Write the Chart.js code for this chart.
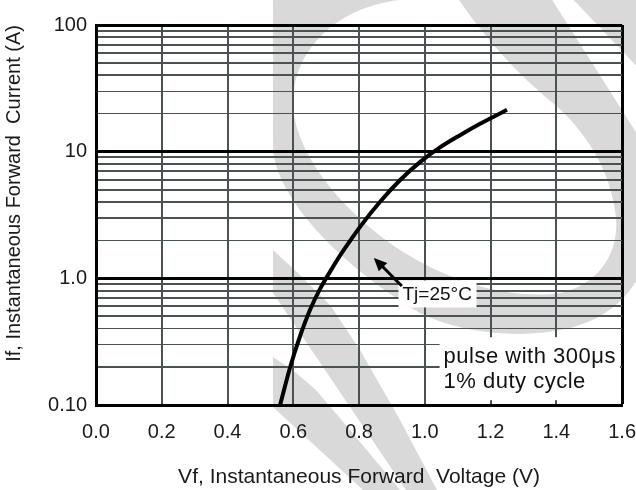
<!DOCTYPE html>
<html>
<head>
<meta charset="utf-8">
<title>Forward characteristics</title>
<script src="https://cdn.jsdelivr.net/npm/chart.js@4.4.1/dist/chart.umd.min.js"></script>
<style>
  body { margin: 0; background: #fff; }
  canvas { display: block; }
</style>
</head>
<body>
<canvas id="vfChart" width="636" height="490"></canvas>
<script>
// curve (Tj = 25C)
var vf = [0.56, 0.59, 0.621, 0.651, 0.681, 0.712, 0.742, 0.773, 0.803, 0.864, 0.925, 0.986, 1.046, 1.107, 1.168, 1.25];
var ifwd = [0.10, 0.197, 0.352, 0.565, 0.822, 1.13, 1.51, 1.98, 2.55, 4.02, 5.97, 8.3, 10.8, 13.5, 16.6, 21.4];

var xTicks = [0, 0.2, 0.4, 0.6, 0.8, 1.0, 1.2, 1.4, 1.6];
var xTickLabels = ['0.0', '0.2', '0.4', '0.6', '0.8', '1.0', '1.2', '1.4', '1.6'];
var yDecades = [0.1, 1, 10, 100];
var yDecadeLabels = ['0.10', '1.0', '10', '100'];
var thinLines = [0.3, 0.4, 2, 20, 30];

var tjText = 'Tj=25\u00B0C';
var pulseText = ['pulse with 300\u03BCs', '1% duty cycle'];

var FONT = '"Liberation Sans", Arial, sans-serif';
var GRID = '#4b5254';

function same(a, b) { return Math.abs(a - b) < 1e-9 * Math.max(1, b); }
function isDecade(v) { return yDecades.some(function (d) { return same(v, d); }); }
function isThin(v) { return thinLines.some(function (d) { return same(v, d); }); }

// gray logo watermark behind the grid
var backdrop = {
  id: 'backdrop',
  beforeDraw: function (chart) {
    var ctx = chart.ctx;
    ctx.save();
    ctx.fillStyle = '#fff';
    ctx.fillRect(0, 0, chart.width, chart.height);
    ctx.fillStyle = '#d9d9d9';

    ctx.beginPath();
    ctx.moveTo(273, -5);
    ctx.lineTo(273, 150);
    ctx.bezierCurveTo(278, 200, 340, 265, 420, 313);
    ctx.bezierCurveTo(460, 333, 520, 340, 570, 328);
    ctx.bezierCurveTo(640, 310, 660, 250, 660, 170);
    ctx.lineTo(549, -5);
    ctx.closePath();
    ctx.moveTo(399, -5);
    ctx.lineTo(399, 0);
    ctx.bezierCurveTo(335, 8, 295, 50, 293, 100);
    ctx.bezierCurveTo(292, 150, 340, 210, 400, 250);
    ctx.bezierCurveTo(450, 282, 510, 300, 560, 293);
    ctx.bezierCurveTo(600, 285, 622, 250, 615, 210);
    ctx.bezierCurveTo(608, 160, 575, 120, 549, 100);
    ctx.bezierCurveTo(520, 75, 490, 45, 459, 0);
    ctx.lineTo(459, -5);
    ctx.closePath();
    ctx.fill('evenodd');

    var polys = [
      [[569, -5], [645, -5], [645, 75]],
      [[273, 250], [300, 275], [330, 305], [360, 350], [400, 420], [437, 490], [406, 490], [350, 407], [273, 293]],
      [[273, 357], [295, 372], [316, 390], [350, 430], [400, 490], [363, 490], [273, 407]]
    ];
    polys.forEach(function (p) {
      ctx.beginPath();
      ctx.moveTo(p[0][0], p[0][1]);
      for (var i = 1; i < p.length; i++) ctx.lineTo(p[i][0], p[i][1]);
      ctx.closePath();
      ctx.fill();
    });
    ctx.restore();
  }
};

// annotations: arrow, Tj label and the pulse note
var notes = {
  id: 'notes',
  afterDraw: function (chart) {
    var ctx = chart.ctx, xs = chart.scales.x, ys = chart.scales.y;
    ctx.save();

    // Tj label
    var tx = xs.getPixelForValue(0.92), ty = ys.getPixelForValue(0.98);
    ctx.fillStyle = '#fff';
    ctx.fillRect(tx, ty + 1, 78, 27);
    ctx.fillStyle = '#111';
    ctx.font = '19px ' + FONT;
    ctx.textBaseline = 'alphabetic';
    ctx.fillText(tjText, tx + 4, ty + 21);

    // arrow pointing at the curve
    var ax = xs.getPixelForValue(0.93), ay = ys.getPixelForValue(0.87);
    var bx = xs.getPixelForValue(0.845), by = ys.getPixelForValue(1.45);
    var ang = Math.atan2(by - ay, bx - ax);
    ctx.strokeStyle = '#000';
    ctx.lineWidth = 3;
    ctx.beginPath();
    ctx.moveTo(ax, ay);
    ctx.lineTo(bx - 8 * Math.cos(ang), by - 8 * Math.sin(ang));
    ctx.stroke();
    ctx.fillStyle = '#000';
    ctx.beginPath();
    ctx.moveTo(bx, by);
    ctx.lineTo(bx - 13 * Math.cos(ang) + 6 * Math.sin(ang), by - 13 * Math.sin(ang) - 6 * Math.cos(ang));
    ctx.lineTo(bx - 13 * Math.cos(ang) - 6 * Math.sin(ang), by - 13 * Math.sin(ang) + 6 * Math.cos(ang));
    ctx.closePath();
    ctx.fill();

    // pulse note
    var px = xs.getPixelForValue(1.045), py = ys.getPixelForValue(0.343);
    ctx.fillStyle = '#fff';
    ctx.fillRect(px, py, chart.chartArea.right - 2 - px, 63);
    ctx.fillStyle = '#111';
    ctx.font = '22px ' + FONT;
    ctx.letterSpacing = '0.5px';
    ctx.fillText(pulseText[0], px + 4, py + 26);
    ctx.fillText(pulseText[1], px + 4, py + 51);

    ctx.restore();
  }
};

var points = vf.map(function (v, i) { return { x: v, y: ifwd[i] }; });

new Chart(document.getElementById('vfChart'), {
  type: 'line',
  data: {
    datasets: [{
      data: points,
      borderColor: '#000',
      borderWidth: 4,
      pointRadius: 0,
      cubicInterpolationMode: 'monotone',
      fill: false
    }]
  },
  options: {
    responsive: false,
    animation: false,
    layout: { padding: { top: 25, right: 0, left: 0, bottom: 0 } },
    plugins: {
      legend: { display: false },
      tooltip: { enabled: false }
    },
    scales: {
      x: {
        type: 'linear',
        min: 0,
        max: 1.6,
        afterBuildTicks: function (scale) {
          scale.ticks = xTicks.map(function (v) { return { value: v }; });
        },
        afterFit: function (scale) { scale.height = 85; },
        ticks: {
          autoSkip: false,
          maxRotation: 0,
          padding: 0,
          color: '#1a1a1a',
          font: { family: FONT, size: 20 },
          callback: function (value, index) { return xTickLabels[index]; }
        },
        grid: {
          drawTicks: true,
          tickLength: 15,
          tickColor: 'rgba(0,0,0,0)',
          color: function (c) { return c.tick && same(c.tick.value, 1.6) ? '#000' : GRID; },
          lineWidth: function (c) { return c.tick && same(c.tick.value, 1.6) ? 3 : 2; }
        },
        border: { color: '#000', width: 3 },
        title: {
          display: true,
          text: 'Vf, Instantaneous Forward  Voltage (V)',
          color: '#1a1a1a',
          font: { family: FONT, size: 21 },
          padding: { top: 0, bottom: 0 }
        }
      },
      y: {
        type: 'logarithmic',
        min: 0.1,
        max: 100,
        afterBuildTicks: function (scale) {
          var list = [];
          [0.1, 1, 10].forEach(function (d) {
            for (var k = 1; k < 10; k++) list.push({ value: Number((k * d).toPrecision(3)) });
          });
          list.push({ value: 100 });
          scale.ticks = list;
        },
        afterFit: function (scale) { scale.width = 96; },
        ticks: {
          autoSkip: false,
          padding: 9,
          color: '#1a1a1a',
          font: { family: FONT, size: 20 },
          callback: function (value) {
            for (var i = 0; i < yDecades.length; i++) {
              if (same(value, yDecades[i])) return yDecadeLabels[i];
            }
            return '';
          }
        },
        grid: {
          drawTicks: false,
          color: function (c) { return c.tick && isDecade(c.tick.value) ? '#000' : GRID; },
          lineWidth: function (c) {
            if (!c.tick) return 2;
            if (isDecade(c.tick.value)) return 3;
            return isThin(c.tick.value) ? 1 : 2;
          }
        },
        border: { color: '#000', width: 3 },
        title: {
          display: true,
          align: 'end',
          text: 'If, Instantaneous Forward  Current (A)',
          color: '#1a1a1a',
          font: { family: FONT, size: 20 },
          padding: { top: 2, bottom: 0 }
        }
      }
    }
  },
  plugins: [backdrop, notes]
});
</script>
</body>
</html>
